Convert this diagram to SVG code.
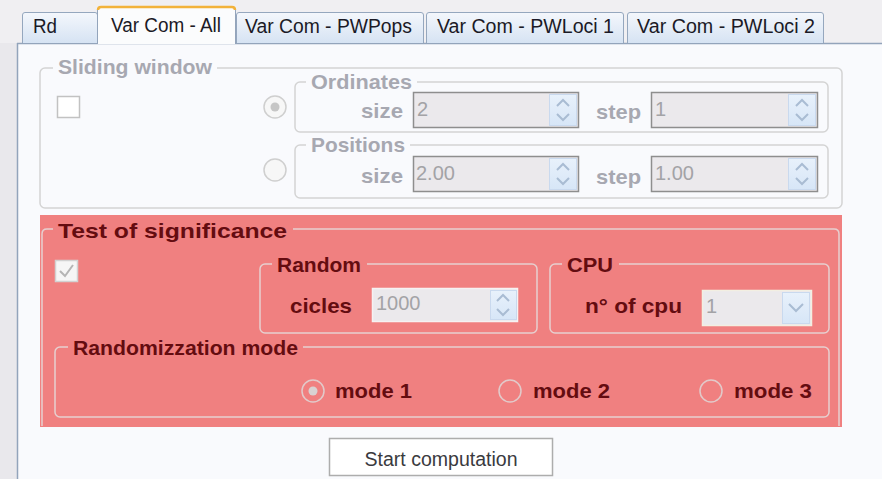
<svg xmlns="http://www.w3.org/2000/svg" width="882" height="479" viewBox="0 0 882 479">
<defs>
<linearGradient id="tabg" x1="0" y1="0" x2="0" y2="1">
<stop offset="0" stop-color="#f4f7fc"/><stop offset="1" stop-color="#d6e3f3"/>
</linearGradient>
<linearGradient id="sping" x1="0" y1="0" x2="0" y2="1">
<stop offset="0" stop-color="#e8f1fb"/><stop offset="1" stop-color="#d7e6f7"/>
</linearGradient>
<style>
text{font-family:"Liberation Sans",Arial,sans-serif}
.tab{fill:url(#tabg);stroke:#95a7be;stroke-width:1}
.tabt{font-size:20px;fill:#1b1a26}
.grp{fill:none;stroke:#d4d4d4;stroke-width:1.5}
.rgrp{fill:none;stroke:#e6cfcf;stroke-width:1.5}
.glab{font-size:21px;font-weight:bold;fill:#a7a8b1}
.rlab{font-size:21px;font-weight:bold;fill:#640c10}
.box{fill:#ebe9ec;stroke:#8e8e8e;stroke-width:1.5}
.val{font-size:20px;fill:#a3a3a6}
.spin{fill:url(#sping);stroke:#c9d9ee;stroke-width:1}
.arr{fill:none;stroke:#a9bcd3;stroke-width:2}
.rad{fill:#f7f7f7;stroke:#cfcfcf;stroke-width:1.5}
.rrad{fill:none;stroke:#e2caca;stroke-width:1.5}
</style>
</defs>
<!-- background -->
<rect x="0" y="0" width="882" height="479" fill="#f0eff2"/>
<rect x="0" y="43" width="17" height="436" fill="#e9e8ec"/>
<rect x="17" y="43" width="865" height="436" fill="#f9fafd"/>
<line x1="17" y1="43.5" x2="882" y2="43.5" stroke="#93a4bb" stroke-width="1.5"/>
<line x1="17.5" y1="43" x2="17.5" y2="479" stroke="#93a4bb" stroke-width="1.5"/>

<g id="tabs">
<g id="tab-rd"><path class="tab" d="M22.5,43 V15 Q22.5,12.5 25,12.5 H95 Q97.5,12.5 97.5,15 V43"/><text class="tabt" x="33" y="33" textLength="24" lengthAdjust="spacingAndGlyphs">Rd</text></g>
<g id="tab-pwpops"><path class="tab" d="M236.5,43 V15 Q236.5,12.5 239,12.5 H421 Q423.5,12.5 423.5,15 V43"/><text class="tabt" x="245" y="33" textLength="167" lengthAdjust="spacingAndGlyphs">Var Com - PWPops</text></g>
<g id="tab-pwloci1"><path class="tab" d="M426.5,43 V15 Q426.5,12.5 429,12.5 H621 Q623.5,12.5 623.5,15 V43"/><text class="tabt" x="437" y="33" textLength="177" lengthAdjust="spacingAndGlyphs">Var Com - PWLoci 1</text></g>
<g id="tab-pwloci2"><path class="tab" d="M627.5,43 V15 Q627.5,12.5 630,12.5 H821 Q823.5,12.5 823.5,15 V43"/><text class="tabt" x="637" y="33" textLength="178" lengthAdjust="spacingAndGlyphs">Var Com - PWLoci 2</text></g>
<g id="tab-all"><path d="M97.5,44 V10 Q97.5,7.5 100,7.5 H233 Q235.5,7.5 235.5,10 V44" fill="#fbfcfd" stroke="#93a4bb" stroke-width="1"/><path d="M98,10 Q98,7 101,7 H232 Q235,7 235,10" fill="none" stroke="#f2b23a" stroke-width="2.5"/><text class="tabt" x="111" y="32" textLength="110" lengthAdjust="spacingAndGlyphs">Var Com - All</text></g>
</g>

<g id="sliding-window">
<rect class="grp" x="40" y="68" width="802" height="140" rx="5"/>
<rect x="53" y="60" width="164" height="16" fill="#f9fafd"/>
<text class="glab" x="58" y="74" textLength="154" lengthAdjust="spacingAndGlyphs">Sliding window</text>
<rect x="57.5" y="96.5" width="22" height="21" fill="#ffffff" stroke="#c2c2c2" stroke-width="1.5"/>
</g>

<g id="radio-ordinates"><circle class="rad" cx="275" cy="107" r="11"/><circle cx="275" cy="107" r="4.5" fill="#c6c6c6"/></g>
<g id="radio-positions"><circle class="rad" cx="275" cy="170" r="11"/></g>

<g id="ordinates">
<rect class="grp" x="295" y="82" width="533" height="50" rx="5"/>
<rect x="306" y="74" width="111" height="14" fill="#f9fafd"/>
<text class="glab" x="311" y="89" textLength="101" lengthAdjust="spacingAndGlyphs">Ordinates</text>
<text class="glab" x="361" y="118" textLength="42" lengthAdjust="spacingAndGlyphs">size</text>
<rect class="box" x="413.5" y="92.5" width="165" height="35"/>
<text class="val" x="417" y="116">2</text>
<rect class="spin" x="549.5" y="94.5" width="27" height="31"/>
<path class="arr" d="M557,106 L563,100 L569,106 M557,114 L563,120 L569,114"/>
<text class="glab" x="596" y="119" textLength="45" lengthAdjust="spacingAndGlyphs">step</text>
<rect class="box" x="651.5" y="92.5" width="166" height="35"/>
<text class="val" x="655" y="116">1</text>
<rect class="spin" x="788.5" y="94.5" width="27" height="31"/>
<path class="arr" d="M796,106 L802,100 L808,106 M796,114 L802,120 L808,114"/>
</g>

<g id="positions">
<rect class="grp" x="295" y="145" width="533" height="53" rx="5"/>
<rect x="306" y="137" width="104" height="14" fill="#f9fafd"/>
<text class="glab" x="311" y="152" textLength="94" lengthAdjust="spacingAndGlyphs">Positions</text>
<text class="glab" x="361" y="183" textLength="42" lengthAdjust="spacingAndGlyphs">size</text>
<rect class="box" x="413.5" y="156.5" width="165" height="35"/>
<text class="val" x="416" y="180">2.00</text>
<rect class="spin" x="549.5" y="158.5" width="27" height="31"/>
<path class="arr" d="M557,170 L563,164 L569,170 M557,178 L563,184 L569,178"/>
<text class="glab" x="596" y="184" textLength="45" lengthAdjust="spacingAndGlyphs">step</text>
<rect class="box" x="651.5" y="156.5" width="166" height="35"/>
<text class="val" x="655" y="180">1.00</text>
<rect class="spin" x="788.5" y="158.5" width="27" height="31"/>
<path class="arr" d="M796,170 L802,164 L808,170 M796,178 L802,184 L808,178"/>
</g>

<g id="test-of-significance">
<rect x="40" y="215" width="802" height="212" fill="#f08080"/>
<path class="rgrp" d="M42,426 V234 Q42,229 47,229 H834 Q839,229 839,234 V426"/>
<rect x="53" y="220" width="240" height="16" fill="#f08080"/>
<text class="rlab" x="58" y="238" textLength="229" lengthAdjust="spacingAndGlyphs">Test of significance</text>
<rect x="55.5" y="260.5" width="22" height="21" fill="#f6f6f6" stroke="#d2d2d2" stroke-width="1.5"/>
<path d="M60,271 L65,276 L73,265" fill="none" stroke="#b5b5b5" stroke-width="2"/>
</g>

<g id="random">
<rect class="rgrp" x="260" y="264" width="277" height="69" rx="5"/>
<rect x="272" y="256" width="95" height="14" fill="#f08080"/>
<text class="rlab" x="277" y="272" textLength="84" lengthAdjust="spacingAndGlyphs">Random</text>
<text class="rlab" x="290" y="313" textLength="62" lengthAdjust="spacingAndGlyphs">cicles</text>
<rect x="372.5" y="288.5" width="145" height="33" fill="#ebe9ec" stroke="#f6f2f2" stroke-width="1.5"/>
<text class="val" x="376" y="310">1000</text>
<rect class="spin" x="490.5" y="290.5" width="26" height="29"/>
<path class="arr" d="M497,301 L503,295 L509,301 M497,309 L503,315 L509,309"/>
</g>

<g id="cpu">
<rect class="rgrp" x="550" y="264" width="279" height="69" rx="5"/>
<rect x="562" y="256" width="57" height="14" fill="#f08080"/>
<text class="rlab" x="567" y="272" textLength="46" lengthAdjust="spacingAndGlyphs">CPU</text>
<text class="rlab" x="585" y="313" textLength="97" lengthAdjust="spacingAndGlyphs">n° of cpu</text>
<rect x="702.5" y="290.5" width="109" height="35" fill="#ebe9ec" stroke="#f2efe2" stroke-width="1.5"/>
<text class="val" x="706" y="313">1</text>
<rect class="spin" x="782.5" y="292.5" width="27" height="31"/>
<path class="arr" d="M789,304 L796,311 L803,304"/>
</g>

<g id="randomization-mode">
<rect class="rgrp" x="55" y="347" width="774" height="70" rx="5"/>
<rect x="68" y="339" width="235" height="14" fill="#f08080"/>
<text class="rlab" x="73" y="355" textLength="225" lengthAdjust="spacingAndGlyphs">Randomizzation mode</text>
<circle class="rrad" cx="313" cy="391" r="11"/><circle cx="313" cy="391" r="4.5" fill="#d9d2d2"/>
<text class="rlab" x="335" y="398" textLength="77" lengthAdjust="spacingAndGlyphs">mode 1</text>
<circle class="rrad" cx="510" cy="391" r="11"/>
<text class="rlab" x="533" y="398" textLength="77" lengthAdjust="spacingAndGlyphs">mode 2</text>
<circle class="rrad" cx="711" cy="391" r="11"/>
<text class="rlab" x="734" y="398" textLength="78" lengthAdjust="spacingAndGlyphs">mode 3</text>
</g>

<g id="start-computation">
<rect x="329.5" y="438.5" width="223" height="37" fill="#ffffff" stroke="#adadad" stroke-width="1.5"/>
<text x="441" y="466" font-size="20" fill="#3a3a3e" text-anchor="middle" textLength="153" lengthAdjust="spacingAndGlyphs">Start computation</text>
</g>
<g id="connectors"/>
</svg>
